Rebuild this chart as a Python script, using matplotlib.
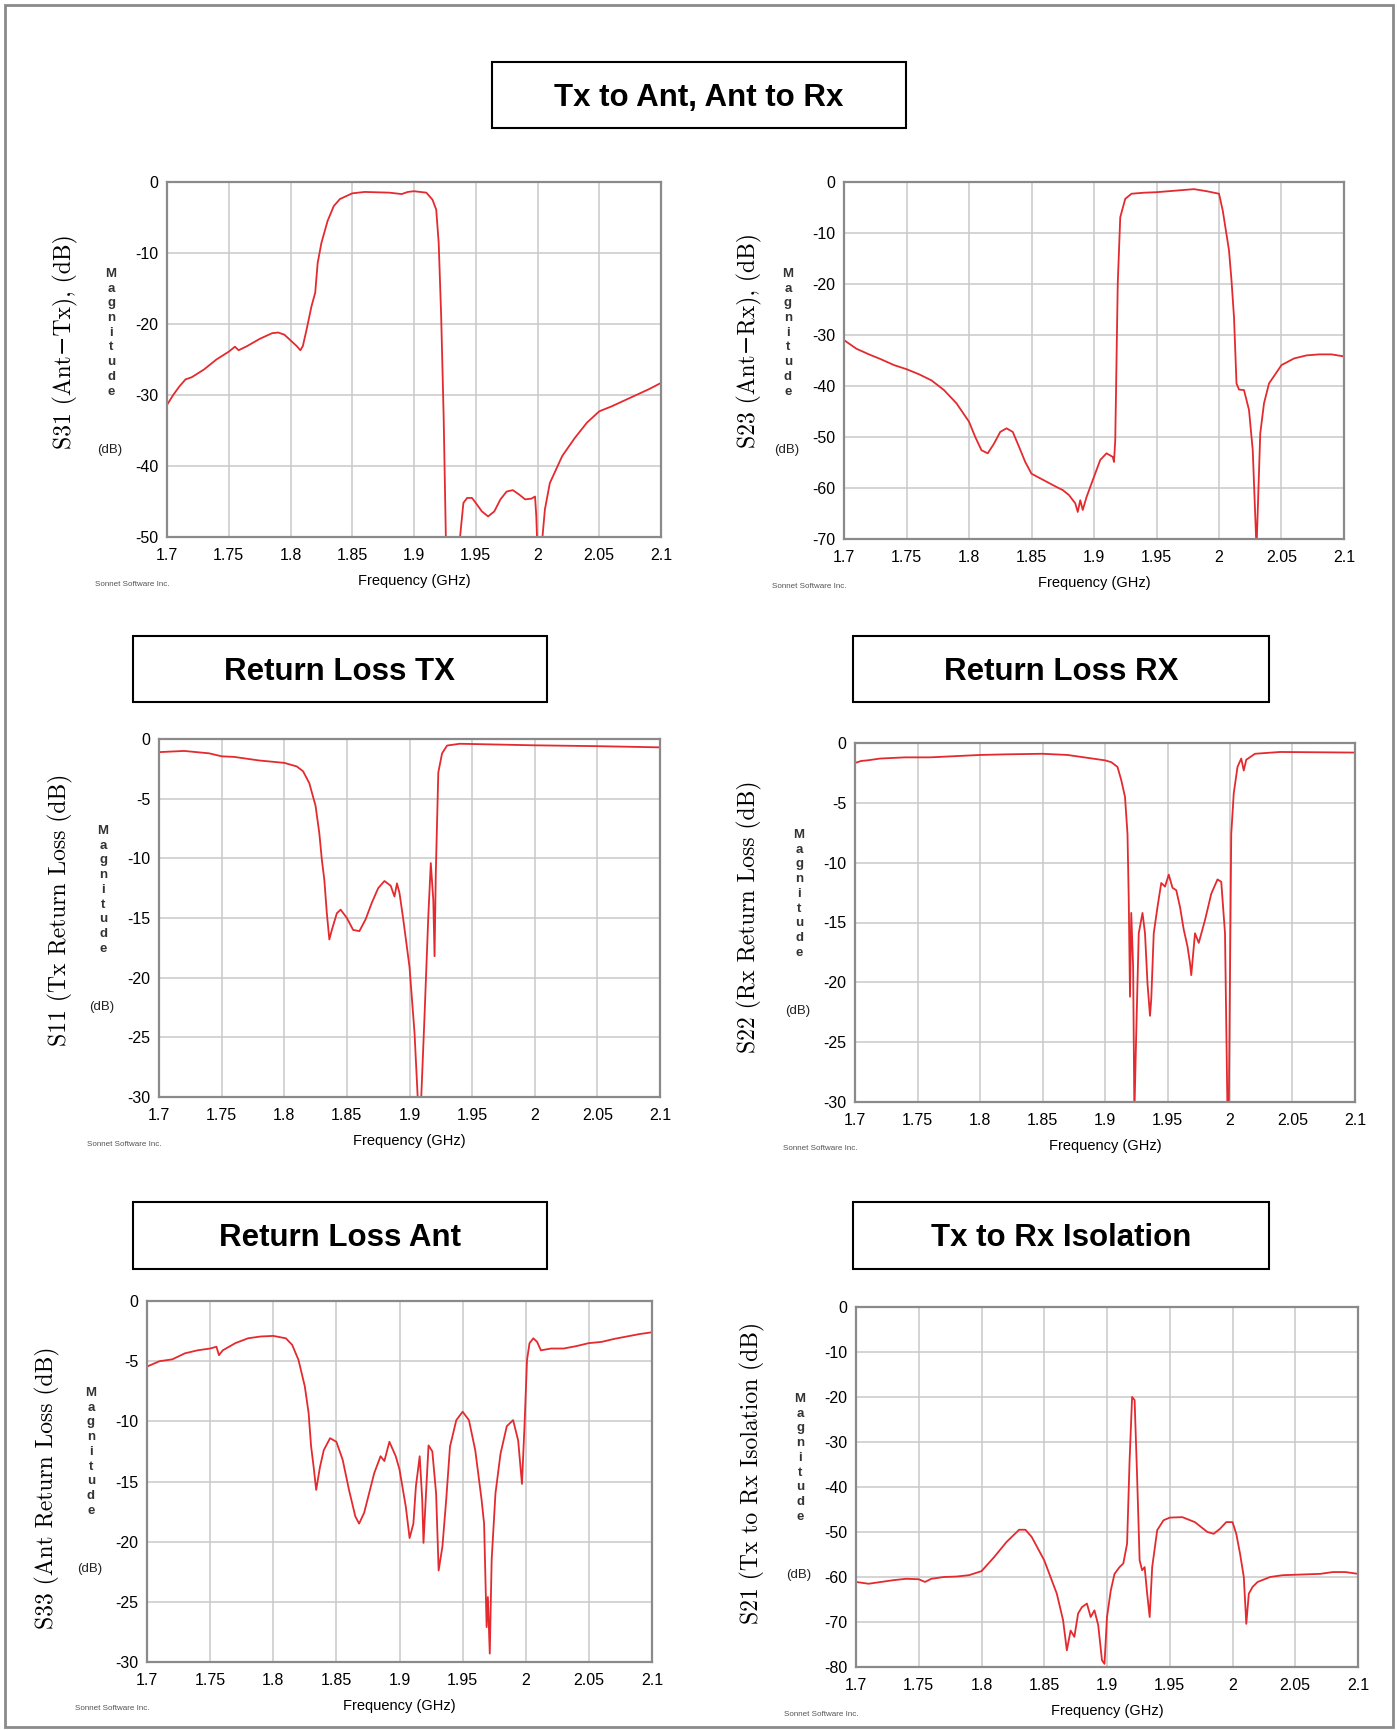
import numpy as np
import matplotlib
matplotlib.use("Agg")
import matplotlib.pyplot as plt
from matplotlib.patches import Rectangle

W, H = 1397, 1730

# ---- data (frequency in GHz, magnitude in dB) ----
freq_ticks = [1.7, 1.75, 1.8, 1.85, 1.9, 1.95, 2.0, 2.05, 2.1]
freq_labels = ['1.7', '1.75', '1.8', '1.85', '1.9', '1.95', '2', '2.05', '2.1']

s31_f = [1.700, 1.705, 1.710, 1.715, 1.720, 1.730, 1.740, 1.750, 1.755, 1.758, 1.765,
         1.775, 1.785, 1.790, 1.795, 1.800, 1.805, 1.808, 1.810, 1.813, 1.817, 1.820,
         1.822, 1.825, 1.830, 1.835, 1.840, 1.850, 1.860, 1.880, 1.890, 1.895, 1.900,
         1.910, 1.915, 1.918, 1.920, 1.922, 1.924, 1.926, 1.930, 1.935, 1.937, 1.940,
         1.943, 1.947, 1.950, 1.955, 1.960, 1.965, 1.970, 1.975, 1.980, 1.985, 1.990,
         1.995, 1.998, 1.999, 2.000, 2.002, 2.003, 2.006, 2.010, 2.015, 2.020, 2.030,
         2.040, 2.050, 2.060, 2.070, 2.080, 2.090, 2.100]
s31_db = [-31.4, -30.0, -28.8, -27.8, -27.5, -26.4, -25.0, -23.9, -23.2, -23.7, -23.1,
          -22.1, -21.3, -21.2, -21.5, -22.3, -23.1, -23.7, -23.1, -20.8, -17.5, -15.6,
          -11.4, -8.6, -5.5, -3.4, -2.4, -1.6, -1.4, -1.5, -1.7, -1.4, -1.3,
          -1.5, -2.5, -3.9, -8.6, -18.9, -33.0, -52.0, -60.0, -60.0, -50.5, -45.2,
          -44.5, -44.5, -45.2, -46.4, -47.1, -46.4, -44.7, -43.6, -43.4, -44.0, -44.7,
          -44.6, -44.3, -47.0, -52.0, -55.0, -52.0, -46.1, -42.4, -40.5, -38.6, -36.1,
          -33.9, -32.3, -31.6, -30.8, -30.0, -29.2, -28.3]

s23_f = [1.700, 1.710, 1.720, 1.730, 1.740, 1.750, 1.760, 1.770, 1.780, 1.790, 1.800,
         1.805, 1.810, 1.815, 1.820, 1.825, 1.830, 1.835, 1.840, 1.845, 1.850, 1.860,
         1.870, 1.875, 1.880, 1.885, 1.887, 1.889, 1.891, 1.894, 1.900, 1.905, 1.910,
         1.915, 1.916, 1.917, 1.919, 1.921, 1.925, 1.930, 1.940, 1.950, 1.960, 1.970,
         1.980, 1.990, 2.000, 2.003, 2.008, 2.010, 2.012, 2.014, 2.016, 2.020, 2.024,
         2.027, 2.030, 2.033, 2.036, 2.040, 2.050, 2.060, 2.070, 2.080, 2.090, 2.100]
s23_db = [-31.0, -32.7, -33.8, -34.8, -35.9, -36.7, -37.7, -38.9, -40.8, -43.4, -47.0,
          -50.0, -52.6, -53.2, -51.3, -49.0, -48.3, -49.0, -51.9, -54.9, -57.2, -58.5,
          -59.8, -60.4, -61.4, -63.0, -64.7, -62.4, -64.3, -61.8, -57.8, -54.5, -53.2,
          -53.9, -54.9, -50.6, -19.9, -6.9, -3.3, -2.3, -2.1, -2.0, -1.8, -1.6,
          -1.4, -1.8, -2.3, -5.6, -13.4, -19.3, -26.5, -39.5, -40.7, -40.8, -44.7,
          -52.6, -72.0, -49.3, -43.4, -39.5, -35.9, -34.6, -34.0, -33.8, -33.8, -34.2]

s11_f = [1.700, 1.720, 1.740, 1.750, 1.760, 1.780, 1.800, 1.810, 1.815, 1.820, 1.825,
         1.828, 1.830, 1.832, 1.834, 1.836, 1.838, 1.842, 1.845, 1.850, 1.855, 1.860,
         1.865, 1.870, 1.875, 1.880, 1.885, 1.888, 1.890, 1.892, 1.895, 1.900, 1.904,
         1.907, 1.909, 1.912, 1.915, 1.917, 1.919, 1.920, 1.921, 1.923, 1.926, 1.930,
         1.940, 1.950, 2.000, 2.050, 2.100]
s11_db = [-1.1, -1.0, -1.2, -1.45, -1.5, -1.8, -2.0, -2.3, -2.7, -3.7, -5.6,
          -7.9, -10.1, -11.8, -14.6, -16.8, -16.0, -14.6, -14.3, -15.0, -16.0, -16.1,
          -15.1, -13.7, -12.5, -11.9, -12.3, -13.2, -12.1, -12.9, -15.1, -19.1, -24.6,
          -31.0, -31.0, -23.2, -14.9, -10.4, -13.5, -18.2, -11.2, -2.8, -1.2, -0.55,
          -0.4, -0.42, -0.53, -0.6, -0.7]

s22_f = [1.700, 1.705, 1.710, 1.720, 1.740, 1.760, 1.780, 1.800, 1.820, 1.850, 1.870,
         1.880, 1.890, 1.900, 1.905, 1.910, 1.913, 1.916, 1.918, 1.919, 1.920, 1.921,
         1.9225, 1.9235, 1.925, 1.927, 1.930, 1.932, 1.934, 1.936, 1.937, 1.939, 1.942,
         1.945, 1.948, 1.951, 1.954, 1.957, 1.960, 1.963, 1.966, 1.968, 1.969, 1.972,
         1.975, 1.980, 1.985, 1.990, 1.993, 1.996, 1.998, 1.999, 2.001, 2.003, 2.006,
         2.009, 2.011, 2.013, 2.020, 2.040, 2.100]
s22_db = [-1.67, -1.5, -1.45, -1.3, -1.2, -1.2, -1.1, -1.0, -0.95, -0.9, -1.0,
          -1.15, -1.3, -1.45, -1.6, -2.0, -3.1, -4.5, -7.6, -13.1, -21.2, -14.2,
          -18.7, -31.0, -24.2, -15.9, -14.2, -15.9, -20.1, -22.8, -21.4, -15.9, -13.7,
          -11.7, -12.0, -11.0, -12.1, -12.3, -13.7, -15.6, -17.0, -18.4, -19.4, -15.9,
          -16.7, -14.8, -12.6, -11.4, -11.6, -15.9, -31.0, -31.0, -7.6, -4.2, -2.0,
          -1.3, -2.3, -1.4, -0.9, -0.75, -0.8]

s33_f = [1.700, 1.710, 1.720, 1.730, 1.740, 1.750, 1.755, 1.757, 1.760, 1.770, 1.780,
         1.790, 1.800, 1.810, 1.815, 1.820, 1.825, 1.828, 1.830, 1.832, 1.834, 1.837,
         1.840, 1.845, 1.850, 1.855, 1.860, 1.865, 1.868, 1.872, 1.880, 1.885, 1.888,
         1.892, 1.897, 1.900, 1.905, 1.908, 1.911, 1.913, 1.916, 1.918, 1.919, 1.921,
         1.923, 1.926, 1.929, 1.931, 1.934, 1.937, 1.940, 1.945, 1.950, 1.955, 1.960,
         1.965, 1.967, 1.969, 1.970, 1.9715, 1.973, 1.976, 1.980, 1.985, 1.990, 1.994,
         1.997, 1.999, 2.001, 2.003, 2.006, 2.009, 2.012, 2.020, 2.030, 2.040, 2.050,
         2.060, 2.070, 2.080, 2.090, 2.100]
s33_db = [-5.45, -5.0, -4.85, -4.35, -4.1, -3.95, -3.8, -4.5, -4.1, -3.5, -3.1,
          -2.95, -2.9, -3.1, -3.65, -4.9, -7.1, -9.3, -12.1, -13.8, -15.7, -13.8,
          -12.4, -11.4, -11.7, -13.2, -15.7, -17.9, -18.5, -17.6, -14.3, -12.9, -13.3,
          -11.7, -12.9, -14.0, -17.1, -19.7, -18.5, -15.4, -12.9, -16.5, -20.1, -16.0,
          -12.0, -12.5, -16.0, -22.4, -20.4, -16.5, -12.1, -9.9, -9.2, -9.9, -12.4,
          -16.5, -18.5, -27.1, -24.6, -29.3, -21.5, -16.0, -12.7, -10.4, -9.9, -11.6,
          -15.2, -10.4, -4.9, -3.5, -3.1, -3.4, -4.1, -3.95, -3.95, -3.75, -3.5,
          -3.4, -3.15, -2.95, -2.75, -2.6]

s21_f = [1.700, 1.710, 1.720, 1.730, 1.740, 1.750, 1.755, 1.760, 1.770, 1.780, 1.790,
         1.800, 1.810, 1.820, 1.830, 1.835, 1.840, 1.850, 1.855, 1.860, 1.865, 1.868,
         1.871, 1.874, 1.877, 1.880, 1.884, 1.887, 1.890, 1.893, 1.896, 1.898, 1.900,
         1.903, 1.906, 1.910, 1.913, 1.916, 1.918, 1.920, 1.922, 1.924, 1.926, 1.928,
         1.930, 1.932, 1.934, 1.936, 1.940, 1.945, 1.950, 1.960, 1.970, 1.980, 1.985,
         1.990, 1.995, 2.000, 2.003, 2.006, 2.009, 2.011, 2.013, 2.016, 2.020, 2.030,
         2.040, 2.050, 2.060, 2.070, 2.080, 2.090, 2.100]
s21_db = [-61.1, -61.5, -61.1, -60.7, -60.4, -60.5, -61.1, -60.4, -60.0, -59.9, -59.6,
          -58.7, -55.6, -52.2, -49.5, -49.5, -51.1, -56.3, -60.0, -63.7, -69.6, -76.3,
          -71.9, -73.3, -68.1, -66.7, -65.9, -68.9, -67.4, -70.7, -78.5, -79.3, -68.9,
          -63.0, -59.3, -57.8, -57.0, -52.6, -34.1, -20.0, -20.7, -37.8, -56.3, -58.5,
          -57.8, -63.7, -68.9, -57.8, -49.6, -47.4, -46.8, -46.7, -47.8, -50.0, -50.4,
          -49.3, -47.8, -47.8, -50.4, -54.8, -60.0, -70.4, -63.7, -62.2, -61.1, -60.0,
          -59.6, -59.5, -59.4, -59.3, -58.9, -58.9, -59.3]

titles = ['Tx to Ant, Ant to Rx', 'Return Loss TX', 'Return Loss RX',
          'Return Loss Ant', 'Tx to Rx Isolation']
ylabels = ['S31 (Ant\u2212Tx), (dB)', 'S23 (Ant\u2212Rx), (dB)',
           'S11 (Tx Return Loss (dB)', 'S22 (Rx Return Loss (dB)',
           'S33 (Ant Return Loss (dB)', 'S21 (Tx to Rx Isolation (dB)']
ymins = [-50, -70, -30, -30, -30, -80]
ysteps = [10, 10, 5, 5, 5, 10]

curves = [(s31_f, s31_db), (s23_f, s23_db), (s11_f, s11_db),
          (s22_f, s22_db), (s33_f, s33_db), (s21_f, s21_db)]

# ---- layout in pixels (left, top, right, bottom) ----
axes_px = [(167, 182, 661, 537), (844, 182, 1344, 539),
           (159, 739, 660, 1097), (855, 743, 1355, 1102),
           (147, 1301, 652, 1662), (856, 1307, 1358, 1667)]
label_off = [(-102, 160), (-95, 158), (-99, 171), (-106, 174), (-100, 187), (-104, 166)]
title_px = [(492, 62, 906, 128), (133, 636, 547, 702), (853, 636, 1269, 702),
            (133, 1202, 547, 1269), (853, 1202, 1269, 1269)]

RED = '#e42a2e'
GRID = '#c9c9c9'
FRAME = '#8a8a8a'
SANS = 'Liberation Sans'


def fx(x):
    return x / W


def fy(y):
    return 1 - y / H


fig = plt.figure(figsize=(W / 100, H / 100), dpi=100)
fig.patch.set_facecolor('white')

# page border
fig.add_artist(Rectangle((fx(5), fy(1727)), fx(1393) - fx(5), fy(5) - fy(1727),
                         transform=fig.transFigure, fill=False,
                         edgecolor='#8a8a8a', linewidth=2))

for (x0, y0, x1, y1), t in zip(title_px, titles):
    fig.add_artist(Rectangle((fx(x0), fy(y1)), fx(x1) - fx(x0), fy(y0) - fy(y1),
                             transform=fig.transFigure, fill=False,
                             edgecolor='black', linewidth=1.5))
    fig.text(fx((x0 + x1) / 2), fy((y0 + y1) / 2 + 3), t, fontsize=22.5,
             fontweight='bold', family=SANS, ha='center', va='center')

for i, (L, T, R, B) in enumerate(axes_px):
    ax = fig.add_axes([fx(L), fy(B), fx(R) - fx(L), fy(T) - fy(B)])
    f, db = curves[i]
    ax.plot(f, db, color=RED, linewidth=1.3)
    ax.set_xlim(1.7, 2.1)
    ax.set_ylim(ymins[i], 0)
    yt = list(range(0, ymins[i] - 1, -ysteps[i]))
    ax.set_yticks(yt)
    ax.set_yticklabels([str(v) for v in yt], family=SANS, fontsize=11.5)
    ax.set_xticks(freq_ticks)
    ax.set_xticklabels(freq_labels, family=SANS, fontsize=11.5)
    ax.tick_params(length=0, pad=6)
    ax.tick_params(axis='x', pad=8)
    ax.grid(True, color=GRID, linewidth=1.1)
    ax.set_axisbelow(True)
    for sp in ax.spines.values():
        sp.set_color(FRAME)
        sp.set_linewidth(1.6)

    dx, dy = label_off[i]
    fig.text(fx(L + dx), fy(T + dy), ylabels[i], rotation=90, fontsize=17,
             family=['cmr10', 'DejaVu Serif'], ha='center', va='center')
    fig.text(fx(L - 56), fy(T + 86), 'M\na\ng\nn\ni\nt\nu\nd\ne', fontsize=9.5,
             family=SANS, fontweight='bold', color='#333333', ha='center', va='top',
             linespacing=1.3)
    fig.text(fx(L - 57), fy(T + 268), '(dB)', fontsize=9.5, family=SANS,
             color='#222222', ha='center', va='center')
    fig.text(fx((L + R) / 2), fy(B + 44), 'Frequency (GHz)', fontsize=10.5,
             family=SANS, ha='center', va='center')
    fig.text(fx(L - 72), fy(B + 47), 'Sonnet Software Inc.', fontsize=5.8,
             family=SANS, color='#555555', ha='left', va='center')

fig.savefig('out.png', dpi=100)
